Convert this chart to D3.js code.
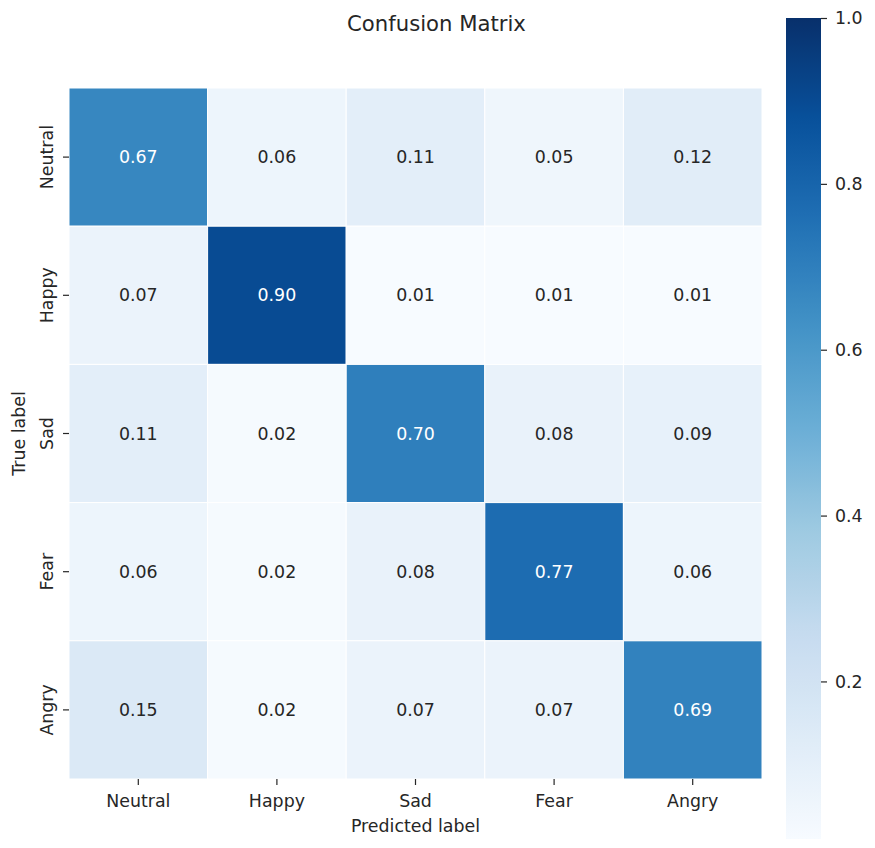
<!DOCTYPE html>
<html>
<head>
<meta charset="utf-8">
<script src="https://cdn.jsdelivr.net/npm/d3@7"></script>
<style>
  html, body { margin: 0; padding: 0; background: #fff; }
  svg text { font-family: "DejaVu Sans", sans-serif; }
</style>
</head>
<body>
<svg id="chart" width="875" height="848"></svg>
<script>
// ---- data ----
const predictedLabels = ["Neutral", "Happy", "Sad", "Fear", "Angry"];
const trueLabels = ["Neutral", "Happy", "Sad", "Fear", "Angry"];
const rowNeutral = [0.67, 0.06, 0.11, 0.05, 0.12];
const rowHappy   = [0.07, 0.90, 0.01, 0.01, 0.01];
const rowSad     = [0.11, 0.02, 0.70, 0.08, 0.09];
const rowFear    = [0.06, 0.02, 0.08, 0.77, 0.06];
const rowAngry   = [0.15, 0.02, 0.07, 0.07, 0.69];
const matrix = [rowNeutral, rowHappy, rowSad, rowFear, rowAngry];
const colorbarTicks = [0.2, 0.4, 0.6, 0.8, 1.0];
const vmin = 0.01, vmax = 1.0;
const blues9 = ["#f7fbff", "#deebf7", "#c6dbef", "#9ecae1", "#6baed6", "#4292c6", "#2171b5", "#08519c", "#08306b"];

// ---- layout ----
const svg = d3.select("#chart");
const hm = { x0: 69, x1: 762, y0: 88, y1: 779 };
const cb = { x0: 786, x1: 821, y0: 18, y1: 839 };
const fs = 17.4;

const blues = d3.scaleLinear()
  .domain(blues9.map((_, i) => i / (blues9.length - 1)))
  .range(blues9)
  .interpolate(d3.interpolateRgb)
  .clamp(true);
const norm = d3.scaleLinear().domain([vmin, vmax]).range([0, 1]).clamp(true);
const color = v => blues(norm(v));

const x = d3.scaleBand().domain(predictedLabels).range([hm.x0, hm.x1]).padding(0);
const y = d3.scaleBand().domain(trueLabels).range([hm.y0, hm.y1]).padding(0);

function luminance(c) {
  const rgb = d3.rgb(c);
  const lin = v => { v /= 255; return v <= 0.03928 ? v / 12.92 : Math.pow((v + 0.055) / 1.055, 2.4); };
  return 0.2126 * lin(rgb.r) + 0.7152 * lin(rgb.g) + 0.0722 * lin(rgb.b);
}

const cells = [];
matrix.forEach((row, i) => row.forEach((v, j) => cells.push({ t: trueLabels[i], p: predictedLabels[j], v })));

const g = svg.append("g");
g.selectAll("rect.cell").data(cells).join("rect")
  .attr("class", "cell")
  .attr("x", d => x(d.p)).attr("y", d => y(d.t))
  .attr("width", x.bandwidth()).attr("height", y.bandwidth())
  .attr("fill", d => color(d.v))
  .attr("stroke", "#fff").attr("stroke-width", 1);

g.selectAll("text.annot").data(cells).join("text")
  .attr("class", "annot")
  .attr("x", d => x(d.p) + x.bandwidth() / 2)
  .attr("y", d => y(d.t) + y.bandwidth() / 2)
  .attr("text-anchor", "middle")
  .attr("dominant-baseline", "central")
  .attr("font-size", fs)
  .attr("fill", d => luminance(color(d.v)) > 0.408 ? "#262626" : "#ffffff")
  .text(d => d3.format(".2f")(d.v));

// x axis
const xAxis = svg.append("g")
  .attr("transform", `translate(0,${hm.y1})`)
  .call(d3.axisBottom(x).tickSize(6).tickPadding(6));
xAxis.select(".domain").remove();
xAxis.selectAll(".tick line").attr("stroke", "#262626").attr("stroke-width", 1.2);
xAxis.selectAll(".tick text").attr("font-size", fs).attr("fill", "#262626")
  .attr("font-family", "DejaVu Sans").attr("dy", null).attr("y", 0)
  .attr("transform", "translate(0,28)");

// y axis
const yAxis = svg.append("g")
  .attr("transform", `translate(${hm.x0},0)`)
  .call(d3.axisLeft(y).tickSize(6).tickPadding(6));
yAxis.select(".domain").remove();
yAxis.selectAll(".tick line").attr("stroke", "#262626").attr("stroke-width", 1.2);
yAxis.selectAll(".tick text").attr("font-size", fs).attr("fill", "#262626")
  .attr("font-family", "DejaVu Sans")
  .attr("x", 0).attr("dy", null).attr("y", 0)
  .attr("text-anchor", "middle")
  .attr("transform", "translate(-16,0) rotate(-90)");

// axis labels
svg.append("text")
  .attr("x", (hm.x0 + hm.x1) / 2).attr("y", 832)
  .attr("text-anchor", "middle").attr("font-size", fs).attr("fill", "#262626")
  .text("Predicted label");
svg.append("text")
  .attr("transform", `translate(25,${(hm.y0 + hm.y1) / 2}) rotate(-90)`)
  .attr("text-anchor", "middle").attr("font-size", fs).attr("fill", "#262626")
  .text("True label");

// title
svg.append("text")
  .attr("x", 436.5).attr("y", 31)
  .attr("text-anchor", "middle").attr("font-size", 21.2).attr("fill", "#262626")
  .text("Confusion Matrix");

// colorbar
const cbScale = d3.scaleLinear().domain([vmin, vmax]).range([cb.y1, cb.y0]);
const defs = svg.append("defs");
const grad = defs.append("linearGradient").attr("id", "cbgrad")
  .attr("x1", 0).attr("y1", 1).attr("x2", 0).attr("y2", 0);
d3.range(0, 1.0001, 0.02).forEach(t => {
  grad.append("stop").attr("offset", t).attr("stop-color", blues(t));
});
svg.append("rect")
  .attr("x", cb.x0).attr("y", cb.y0)
  .attr("width", cb.x1 - cb.x0).attr("height", cb.y1 - cb.y0)
  .attr("fill", "url(#cbgrad)");
const cbAxis = svg.append("g")
  .attr("transform", `translate(${cb.x1},0)`)
  .call(d3.axisRight(cbScale).tickValues(colorbarTicks).tickFormat(d3.format(".1f")).tickSize(6).tickPadding(8));
cbAxis.select(".domain").remove();
cbAxis.selectAll(".tick line").attr("stroke", "#262626").attr("stroke-width", 1.2);
cbAxis.selectAll(".tick text").attr("font-size", fs).attr("fill", "#262626")
  .attr("font-family", "DejaVu Sans");
</script>
</body>
</html>
